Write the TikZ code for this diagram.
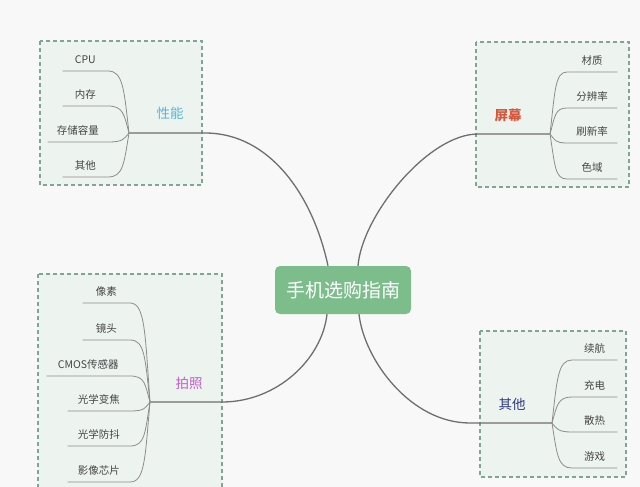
\documentclass[tikz,border=0pt]{standalone}
\usepackage{fontspec}
\setmainfont{Noto Sans CJK SC}
\usepackage{tikz}
\definecolor{bgc}{HTML}{F8F8F8}
\definecolor{boxfill}{HTML}{EDF4F0}
\definecolor{boxline}{HTML}{7FA595}
\definecolor{rootc}{HTML}{7CBD8B}
\definecolor{linec}{HTML}{6E6E6E}
\definecolor{twigc}{HTML}{8C8C8C}
\definecolor{leafc}{HTML}{444444}
\definecolor{perfc}{HTML}{5BB3D5}
\definecolor{screenc}{HTML}{D5573C}
\definecolor{photoc}{HTML}{C160C9}
\definecolor{miscc}{HTML}{2F3B7E}
\tikzset{groupbox/.style={fill=boxfill, draw=boxline, line width=1.1pt, dash pattern=on 4pt off 3pt},
    rootbox/.style={fill=rootc, rounded corners=5pt, minimum width=136pt, minimum height=48pt, text=white, font=\fontsize{19}{22}\selectfont},
    topic/.style={inner sep=0pt, font=\fontsize{13.5}{16}\selectfont},
    leaf/.style={inner sep=0pt, minimum height=22pt, text=leafc, font=\fontsize{10.5}{12}\selectfont},
    branch/.style={draw=linec, line width=1.3pt},
    twig/.style={draw=twigc, line width=0.8pt}}

\begin{document}
\begin{tikzpicture}[x=1pt, y=-1pt]
            \useasboundingbox (0,0) rectangle (640,487);
            \fill[bgc](0,0) rectangle (640,487);
            % group boxes
            \draw[groupbox](40,41) rectangle (202,185);
            \draw[groupbox](476,42) rectangle (629,187);
            \draw[groupbox](38,274) rectangle (222,495);
            \draw[groupbox](480,331) rectangle (626,477);
            % centre
            \node[rootbox] (root) at (343,290) {手机选购指南};
            % topics
            \node[topic, text=perfc] (perf) at (170,113) {性能};
            \node[topic, text=screenc] (screen) at (508,115) {\bfseries 屏幕};
            \node[topic, text=photoc] (photo) at (189,383) {拍照};
            \node[topic, text=miscc] (misc) at (512,404) {其他};
            \coordinate (perfhub) at (129,133);
            \coordinate (screenhub) at (550,134);
            \coordinate (photohub) at (150,402);
            \coordinate (mischub) at (552,423);
            % leaves
            \node[leaf, minimum width=45pt, anchor=south east] (cpu) at (108,71) {CPU};
            \node[leaf, minimum width=45pt, anchor=south east] (mem) at (108,106) {内存};
            \node[leaf, minimum width=60pt, anchor=south east] (stor) at (108,142) {存储容量};
            \node[leaf, minimum width=45pt, anchor=south east] (perfo) at (108,177) {其他};
            \node[leaf, minimum width=50pt, anchor=south west] (mat) at (567,72) {材质};
            \node[leaf, minimum width=50pt, anchor=south west] (res) at (567,108) {分辨率};
            \node[leaf, minimum width=50pt, anchor=south west] (rate) at (567,143) {刷新率};
            \node[leaf, minimum width=50pt, anchor=south west] (gamut) at (567,179) {色域};
            \node[leaf, minimum width=47pt, anchor=south east] (pix) at (130,303) {像素};
            \node[leaf, minimum width=47pt, anchor=south east] (lens) at (130,340) {镜头};
            \node[leaf, minimum width=83pt, anchor=south east] (cmos) at (130,376) {CMOS传感器};
            \node[leaf, minimum width=62pt, anchor=south east] (zoom) at (130,411) {光学变焦};
            \node[leaf, minimum width=62pt, anchor=south east] (ois) at (130,446) {光学防抖};
            \node[leaf, minimum width=62pt, anchor=south east] (chip) at (130,482) {影像芯片};
            \node[leaf, minimum width=45pt, anchor=south west] (batt) at (572,360) {续航};
            \node[leaf, minimum width=45pt, anchor=south west] (chg) at (572,397) {充电};
            \node[leaf, minimum width=45pt, anchor=south west] (heat) at (572,432) {散热};
            \node[leaf, minimum width=45pt, anchor=south west] (game) at (572,468) {游戏};
            % main branches
            \draw[branch](perfhub)--++(76,0) .. controls +(65,0) and +(-15,-70) .. ([xshift=-15pt]root.north);
            \draw[branch](screenhub)--++(-72,0) .. controls +(-50,0) and +(4,-50) .. ([xshift=15pt]root.north);
            \draw[branch](photohub)--++(72,0) .. controls +(55,0) and +(-5,45) .. ([xshift=-16pt]root.south);
            \draw[branch](mischub)--++(-82,0) .. controls +(-60,0) and +(5,45) .. ([xshift=16pt]root.south);
            % twigs
            \draw[twig](perfhub) .. controls +(-5,-44) and +(15,0) .. (cpu.south east)--(cpu.south west);
            \draw[twig](perfhub) .. controls +(-5,-19) and +(15,0) .. (mem.south east)--(mem.south west);
            \draw[twig](perfhub) .. controls +(-5,6) and +(15,0) .. (stor.south east)--(stor.south west);
            \draw[twig](perfhub) .. controls +(-5,31) and +(15,0) .. (perfo.south east)--(perfo.south west);
            \draw[twig](screenhub) .. controls +(5,-43) and +(-12,0) .. (mat.south west)--(mat.south east);
            \draw[twig](screenhub) .. controls +(5,-18) and +(-12,0) .. (res.south west)--(res.south east);
            \draw[twig](screenhub) .. controls +(5,6) and +(-12,0) .. (rate.south west)--(rate.south east);
            \draw[twig](screenhub) .. controls +(5,32) and +(-12,0) .. (gamut.south west)--(gamut.south east);
            \draw[twig](photohub) .. controls +(-5,-70) and +(15,0) .. (pix.south east)--(pix.south west);
            \draw[twig](photohub) .. controls +(-5,-44) and +(15,0) .. (lens.south east)--(lens.south west);
            \draw[twig](photohub) .. controls +(-5,-18) and +(15,0) .. (cmos.south east)--(cmos.south west);
            \draw[twig](photohub) .. controls +(-5,6) and +(15,0) .. (zoom.south east)--(zoom.south west);
            \draw[twig](photohub) .. controls +(-5,31) and +(15,0) .. (ois.south east)--(ois.south west);
            \draw[twig](photohub) .. controls +(-5,56) and +(15,0) .. (chip.south east)--(chip.south west);
            \draw[twig](mischub) .. controls +(5,-44) and +(-14,0) .. (batt.south west)--(batt.south east);
            \draw[twig](mischub) .. controls +(5,-18) and +(-14,0) .. (chg.south west)--(chg.south east);
            \draw[twig](mischub) .. controls +(5,6) and +(-14,0) .. (heat.south west)--(heat.south east);
            \draw[twig](mischub) .. controls +(5,32) and +(-14,0) .. (game.south west)--(game.south east);
        \end{tikzpicture}
\end{document}
